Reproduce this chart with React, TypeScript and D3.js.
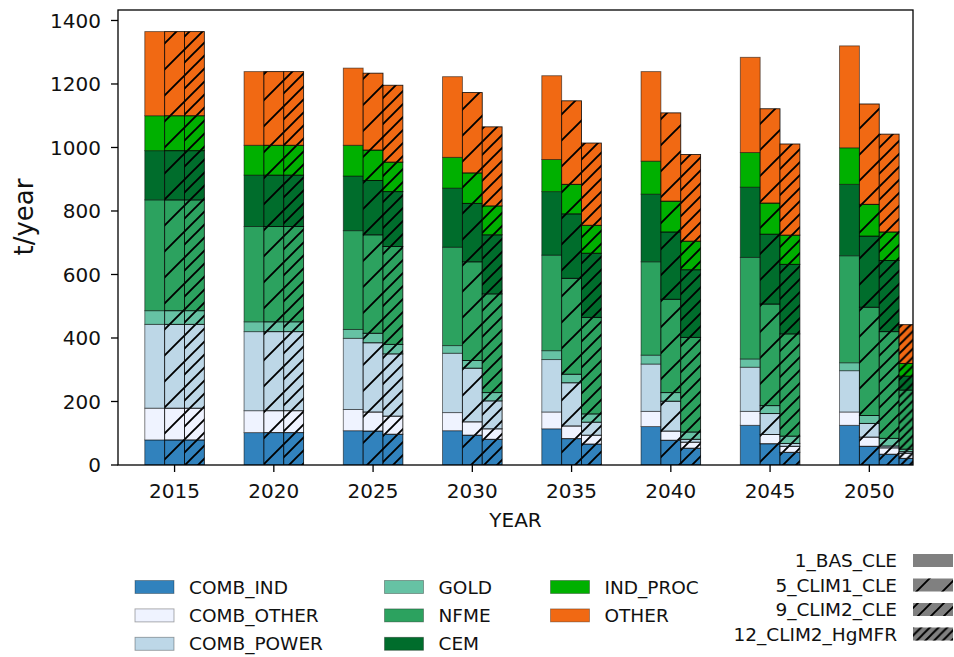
import React from "react";
import * as d3 from "d3";

const years = [2015, 2020, 2025, 2030, 2035, 2040, 2045, 2050];
const sectors = ["COMB_IND", "COMB_OTHER", "COMB_POWER", "GOLD", "NFME", "CEM", "IND_PROC", "OTHER"];
const sectorColors = ["#3182bd", "#eff3ff", "#bdd7e7", "#66c2a4", "#2ca25f", "#006d2c", "#00b000", "#f16913"];
const scenarios = ["1_BAS_CLE", "5_CLIM1_CLE", "9_CLIM2_CLE", "12_CLIM2_HgMFR"];
const yTicks = [0, 200, 400, 600, 800, 1000, 1200, 1400];

// rows = years, columns = sectors (t/year)
const basCle = [
  [79, 100, 264, 43, 349, 155, 110, 265],
  [102, 69, 249, 31, 300, 162, 94, 232],
  [108, 67, 224, 28, 311, 172, 97, 243],
  [108, 57, 187, 24, 310, 186, 97, 254],
  [114, 53, 165, 28, 301, 200, 101, 264],
  [121, 48, 149, 28, 294, 213, 104, 282],
  [125, 44, 139, 26, 320, 221, 109, 300],
  [125, 42, 130, 25, 337, 225, 115, 321],
];
const clim1Cle = [
  [79, 100, 264, 43, 349, 155, 110, 265],
  [102, 69, 249, 31, 300, 162, 94, 232],
  [107, 60, 218, 30, 310, 171, 96, 242],
  [94, 42, 169, 24, 311, 184, 96, 253],
  [83, 40, 136, 27, 302, 203, 93, 263],
  [78, 29, 94, 27, 294, 212, 97, 278],
  [67, 29, 66, 25, 320, 220, 98, 297],
  [59, 29, 43, 25, 341, 224, 100, 316],
];
const clim2Cle = [
  [79, 100, 264, 43, 349, 155, 110, 265],
  [102, 69, 249, 31, 300, 162, 94, 232],
  [97, 57, 196, 30, 308, 173, 93, 242],
  [81, 33, 88, 26, 311, 186, 91, 249],
  [66, 28, 41, 26, 304, 202, 88, 259],
  [53, 19, 9, 23, 298, 213, 90, 273],
  [40, 19, 9, 23, 322, 219, 92, 287],
  [34, 20, 6, 24, 336, 224, 90, 308],
];
const clim2HgMFR = [
  [0, 0, 0, 0, 0, 0, 0, 0],
  [0, 0, 0, 0, 0, 0, 0, 0],
  [0, 0, 0, 0, 0, 0, 0, 0],
  [0, 0, 0, 0, 0, 0, 0, 0],
  [0, 0, 0, 0, 0, 0, 0, 0],
  [0, 0, 0, 0, 0, 0, 0, 0],
  [0, 0, 0, 0, 0, 0, 0, 0],
  [21, 16, 5, 8, 186, 44, 40, 122],
];
const scenarioData = [basCle, clim1Cle, clim2Cle, clim2HgMFR];
const hatchSpacing = [0, 26, 13, 8.7];

const W = 954;
const H = 657;
const left = 118, right = 913, top = 10, bottom = 465;
const font = "DejaVu Sans";
const ink = "#111";

const x = d3.scaleLinear().domain([2012.15, 2052.2]).range([left, right]);
const y = d3.scaleLinear().domain([0, 1433]).range([bottom, top]);

const stack = d3.stack<Record<string, number>>().keys(sectors);

export default function App() {
  const stacked = scenarioData.map((arr) =>
    stack(
      arr.map((row, i) => {
        const o: Record<string, number> = { year: years[i] };
        sectors.forEach((k, j) => (o[k] = row[j]));
        return o;
      })
    )
  );

  return (
    <svg width={W} height={H} style={{ position: "absolute", left: 0, top: 0, background: "#fff" }}>
      <defs>
        <clipPath id="plot">
          <rect x={left} y={top} width={right - left} height={bottom - top} />
        </clipPath>
        {hatchSpacing.map((s, k) =>
          k === 0 ? null : (
            <pattern key={k} id={`hatch${k}`} patternUnits="userSpaceOnUse" width={s} height={s}>
              <path
                d={`M${-s / 2},${s / 2} L${s / 2},${-s / 2} M0,${s} L${s},0 M${s / 2},${s * 1.5} L${s * 1.5},${s / 2}`}
                stroke="#000"
                strokeWidth={1.9}
              />
            </pattern>
          )
        )}
      </defs>

      <g clipPath="url(#plot)">
        {stacked.map((series, s) =>
          series.map((layer, j) =>
            layer.map((d, i) => {
              const v = d[1] - d[0];
              if (v <= 0) return null;
              // scenario bars sit one year apart, the second one on the tick
              const xc = years[i] + s - 1;
              const x0 = x(xc - 0.5);
              const x1 = x(xc + 0.5);
              const y0 = y(d[1]);
              const h = y(d[0]) - y(d[1]);
              return (
                <g key={`${s}-${j}-${i}`}>
                  <rect x={x0} y={y0} width={x1 - x0} height={h} fill={sectorColors[j]} />
                  {s > 0 && <rect x={x0} y={y0} width={x1 - x0} height={h} fill={`url(#hatch${s})`} />}
                  <rect
                    x={x0}
                    y={y0}
                    width={x1 - x0}
                    height={h}
                    fill="none"
                    stroke="#000"
                    strokeOpacity={s > 0 ? 0.85 : 0.55}
                    strokeWidth={0.9}
                  />
                </g>
              );
            })
          )
        )}
      </g>

      {/* spines */}
      <rect x={left} y={top} width={right - left} height={bottom - top} fill="none" stroke="#000" strokeWidth={1.3} />

      {/* x axis */}
      {years.map((yr) => (
        <g key={yr}>
          <line x1={x(yr)} x2={x(yr)} y1={bottom} y2={bottom + 7} stroke="#000" strokeWidth={1.3} />
          <text x={x(yr)} y={498} textAnchor="middle" fontFamily={font} fontSize={20} fill={ink}>
            {yr}
          </text>
        </g>
      ))}
      <text x={(left + right) / 2} y={527} textAnchor="middle" fontFamily={font} fontSize={20} fill={ink}>
        YEAR
      </text>

      {/* y axis */}
      {yTicks.map((t) => (
        <g key={t}>
          <line x1={left - 7} x2={left} y1={y(t)} y2={y(t)} stroke="#000" strokeWidth={1.3} />
          <text x={101} y={y(t)} dy="0.36em" textAnchor="end" fontFamily={font} fontSize={20} fill={ink}>
            {t}
          </text>
        </g>
      ))}
      <text transform="translate(33,217) rotate(-90)" textAnchor="middle" fontFamily={font} fontSize={26} fill={ink}>
        t/year
      </text>

      {/* sector legend */}
      {sectors.map((name, j) => {
        const col = Math.floor(j / 3);
        const row = j % 3;
        const px = [135, 384.5, 550.5][col];
        const cy = 587 + row * 28.4;
        return (
          <g key={name}>
            <rect x={px} y={cy - 6.5} width={39} height={13} fill={sectorColors[j]} stroke="#000" strokeOpacity={0.35} strokeWidth={0.9} />
            <text x={px + 54} y={cy} dy="0.36em" fontFamily={font} fontSize={18.5} fill={ink}>
              {name}
            </text>
          </g>
        );
      })}

      {/* scenario legend */}
      {scenarios.map((name, s) => {
        const cy = 560.5 + s * 24.5;
        return (
          <g key={name}>
            <text x={897} y={cy} dy="0.36em" textAnchor="end" fontFamily={font} fontSize={18.5} fill={ink}>
              {name}
            </text>
            <rect x={913} y={cy - 6.5} width={40} height={13} fill="#808080" />
            {s > 0 && <rect x={913} y={cy - 6.5} width={40} height={13} fill={`url(#hatch${s})`} />}
          </g>
        );
      })}
    </svg>
  );
}
